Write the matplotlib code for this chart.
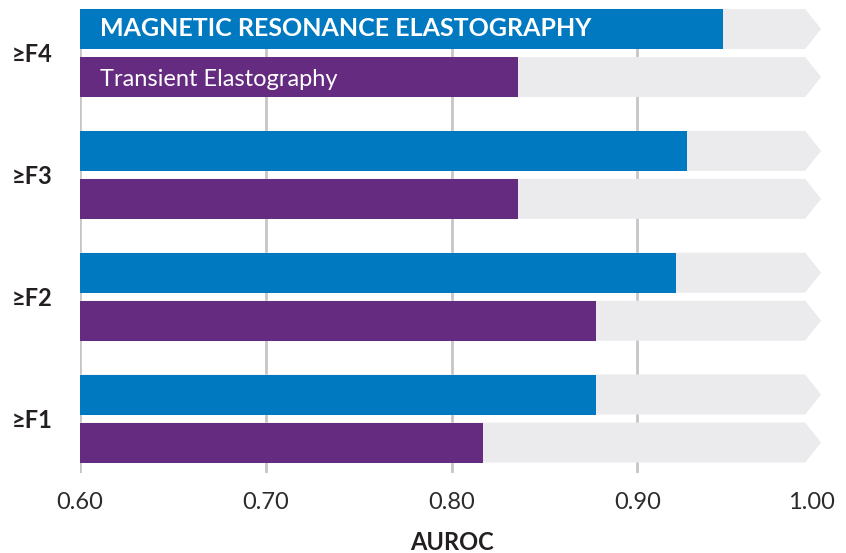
import matplotlib
matplotlib.use("Agg")
from matplotlib import pyplot as plt
from matplotlib.patches import Polygon
from matplotlib.transforms import ScaledTranslation
import numpy as np

# data (bottom to top)
stages = ["≥F1", "≥F2", "≥F3", "≥F4"]
mre = [0.878, 0.921, 0.927, 0.946]   # Magnetic Resonance Elastography
te = [0.817, 0.878, 0.836, 0.836]    # Transient Elastography
xticks = [0.60, 0.70, 0.80, 0.90, 1.00]
xticklabels = ["0.60", "0.70", "0.80", "0.90", "1.00"]

blue = "#0079c1"
purple = "#652b80"
track = "#ebebee"
gridc = "#c6c6c9"
textc = "#231f20"
fam = ["Lato", "DejaVu Sans"]

fig = plt.figure(figsize=(8.46, 5.53), dpi=100)
ax = fig.add_axes([80 / 846, 1 - 473 / 553, 743 / 846, 464 / 553])

xmin, xmax = 0.6, 1.0
h = 0.328
off = 0.197
y = np.arange(len(stages))

# gridlines behind everything
for xv in xticks[:-1]:
    ax.axvline(xv, color=gridc, lw=2, zorder=0)

# grey chevron tracks
tip = 0.0086
for yc in np.concatenate([y + off, y - off]):
    pts = [(xmin, yc - h / 2), (xmax - 0.001 - tip, yc - h / 2), (xmax - 0.001, yc),
           (xmax - 0.001 - tip, yc + h / 2), (xmin, yc + h / 2)]
    ax.add_patch(Polygon(pts, closed=True, facecolor=track, edgecolor="none", zorder=1))

ax.barh(y + off, np.array(mre) - xmin, left=xmin, height=h, color=blue, zorder=2)
ax.barh(y - off, np.array(te) - xmin, left=xmin, height=h, color=purple, zorder=2)

ax.text(0.611, y[-1] + off, "MAGNETIC RESONANCE ELASTOGRAPHY", color="white",
        fontsize=18, fontweight="bold", family=fam, va="center", ha="left", zorder=3)
ax.text(0.611, y[-1] - off - 0.02, "Transient Elastography", color="white",
        fontsize=17, family=fam, va="center", ha="left", zorder=3)

ax.set_xlim(xmin, xmax)
ax.set_ylim(-0.447, 3.361)
for s in ax.spines.values():
    s.set_visible(False)

ax.set_xticks(xticks)
ax.set_xticklabels(xticklabels, fontsize=17, family=fam, color="#2b2b2b")
ax.tick_params(axis="x", length=0, pad=14)
last = ax.get_xticklabels()[-1]
last.set_transform(last.get_transform() + ScaledTranslation(-0.12, 0, fig.dpi_scale_trans))

ax.set_yticks(y)
ax.set_yticklabels(stages, fontsize=17, family=fam, fontweight="bold", color=textc)
ax.tick_params(axis="y", length=0, pad=20)

ax.set_xlabel("AUROC", fontsize=17, family=fam, fontweight="bold", color=textc, labelpad=13)

fig.savefig("out.png", dpi=100)
